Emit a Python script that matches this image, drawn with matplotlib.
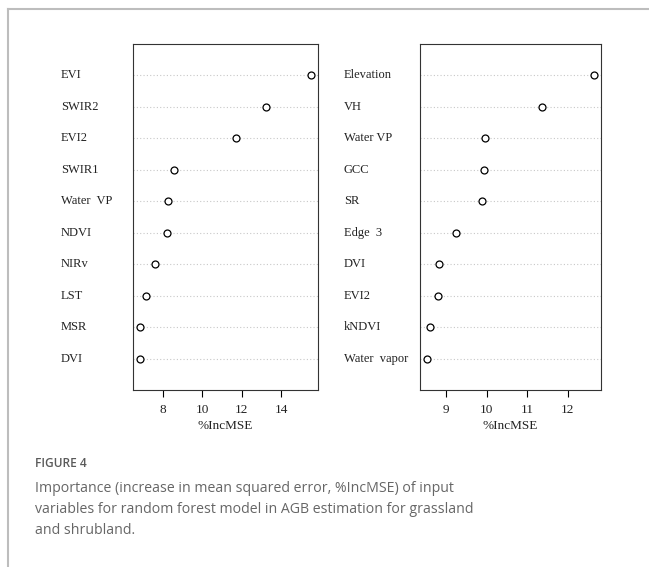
import numpy as np
import matplotlib.pyplot as plt
from matplotlib.lines import Line2D

# grassland panel (top to bottom)
left_vars = ["EVI", "SWIR2", "EVI2", "SWIR1", "Water  VP", "NDVI", "NIRv", "LST", "MSR", "DVI"]
left_vals = [15.50, 13.21, 11.68, 8.57, 8.25, 8.22, 7.62, 7.17, 6.87, 6.84]
left_ticks = [8, 10, 12, 14]

# shrubland panel (top to bottom)
right_vars = ["Elevation", "VH", "Water VP", "GCC", "SR", "Edge  3", "DVI", "EVI2", "kNDVI", "Water  vapor"]
right_vals = [12.66, 11.37, 9.97, 9.94, 9.88, 9.24, 8.83, 8.80, 8.61, 8.52]
right_ticks = [9, 10, 11, 12]

W, H = 649, 567
fig = plt.figure(figsize=(W / 100, H / 100), dpi=100)
serif = ["Liberation Serif", "DejaVu Serif"]


def dotchart(ax, names, vals, ticks, label_x):
    n = len(vals)
    ys = np.arange(n, 0, -1)
    for y in ys:
        ax.axhline(y, color="#c8c8c8", lw=0.8, ls=(0, (1, 2)), zorder=1)
    ax.plot(vals, ys, "o", mfc="white", mec="black", mew=0.9, ms=5, ls="none", zorder=3)
    lo, hi = min(vals), max(vals)
    pad = (hi - lo) * 0.04
    ax.set_xlim(lo - pad, hi + pad)
    ax.set_ylim(0, n + 1)
    ax.set_yticks([])
    ax.set_xticks(ticks)
    ax.set_xticklabels([str(t) for t in ticks], fontfamily=serif, fontsize=9.5, color="#222222")
    ax.tick_params(axis="x", direction="out", length=5, width=0.8, pad=5)
    ax.set_xlabel("%IncMSE", fontfamily=serif, fontsize=9.5, color="#222222", labelpad=3)
    for s in ax.spines.values():
        s.set_linewidth(0.8)
        s.set_color("#333333")
    tr = ax.get_yaxis_transform()
    for nm, y in zip(names, ys):
        ax.text(label_x, y, nm, transform=tr, ha="left", va="center",
                fontfamily=serif, fontsize=9, color="#222222")


def px_axes(x0, x1, y0, y1):
    return fig.add_axes([x0 / W, 1 - y1 / H, (x1 - x0) / W, (y1 - y0) / H])


ax1 = px_axes(133, 318, 44, 390)
dotchart(ax1, left_vars, left_vals, left_ticks, (61 - 133) / (318 - 133))

ax2 = px_axes(420, 601, 44, 390)
dotchart(ax2, right_vars, right_vals, right_ticks, (344 - 420) / (601 - 420))

# page frame lines
fig.add_artist(Line2D([8 / W, 1], [1 - 9 / H, 1 - 9 / H], transform=fig.transFigure, color="#bdbdbd", lw=1.5))
fig.add_artist(Line2D([8 / W, 8 / W], [0, 1 - 9 / H], transform=fig.transFigure, color="#bdbdbd", lw=1.5))

sans = ["Open Sans", "DejaVu Sans"]
fig.text(35 / W, 1 - 467 / H, "FIGURE 4", fontfamily=sans, fontsize=8.6, fontweight="semibold",
         color="#5a5a5a", va="baseline")
caption = ["Importance (increase in mean squared error, %IncMSE) of input",
           "variables for random forest model in AGB estimation for grassland",
           "and shrubland."]
for i, line in enumerate(caption):
    fig.text(35 / W, 1 - (492 + 21 * i) / H, line, fontfamily=sans, fontsize=10.2,
             color="#666666", va="baseline")

fig.savefig("out.png", dpi=100)
